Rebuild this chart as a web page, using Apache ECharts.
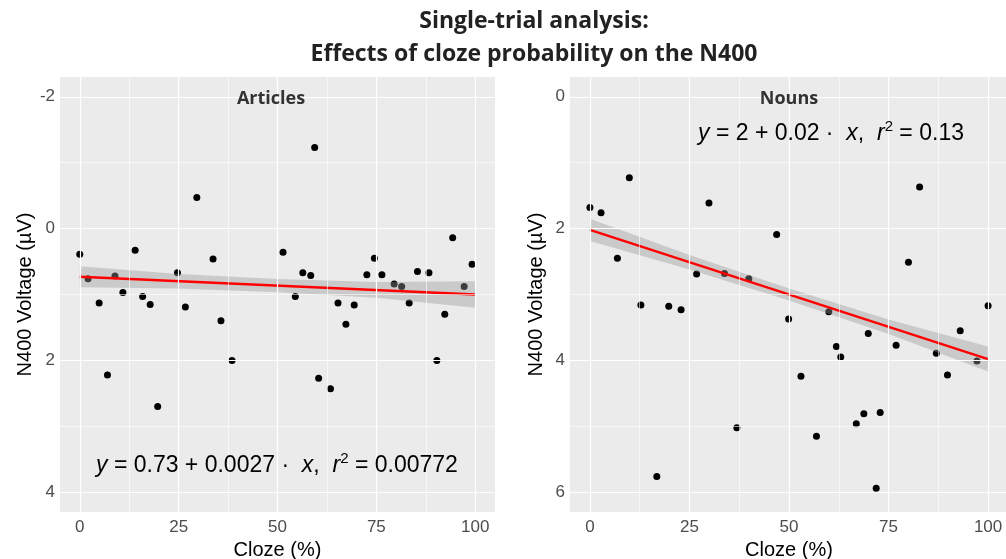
<!DOCTYPE html>
<html><head><meta charset="utf-8">
<script src="https://cdn.jsdelivr.net/npm/echarts@6/dist/echarts.min.js"></script>
<style>html,body{margin:0;padding:0;background:#fff}#c{width:1006px;height:559px}</style>
</head><body><div id="c"></div>
<script>
// ---- data ----
const articlesCloze = [0, 2.1, 4.9, 7.0, 8.9, 10.9, 14, 15.9, 17.8, 19.7, 24.7, 26.7, 29.6, 33.7, 35.7, 38.5, 51.4, 54.5, 56.4, 58.4, 59.4, 60.4, 63.4, 65.3, 67.3, 69.4, 72.6, 74.5, 76.4, 79.5, 81.4, 83.3, 85.4, 88.3, 90.3, 92.3, 94.3, 97.2, 99.2];
const articlesN400 = [0.39, 0.76, 1.13, 2.22, 0.72, 0.97, 0.33, 1.03, 1.15, 2.70, 0.67, 1.19, -0.47, 0.46, 1.40, 2.0, 0.36, 1.03, 0.67, 0.71, -1.23, 2.27, 2.43, 1.13, 1.45, 1.16, 0.70, 0.45, 0.70, 0.84, 0.88, 1.13, 0.65, 0.67, 2.0, 1.30, 0.14, 0.88, 0.54];
const nounsCloze = [0, 2.8, 6.9, 9.9, 12.8, 16.8, 19.8, 22.9, 26.8, 29.9, 33.8, 36.9, 39.9, 46.9, 49.9, 53.0, 56.9, 60.0, 61.9, 63.0, 66.9, 68.8, 69.9, 71.9, 72.9, 76.9, 80.0, 82.8, 87.0, 89.8, 93.0, 97.2, 100];
const nounsN400 = [1.68, 1.76, 2.45, 1.23, 3.16, 5.76, 3.18, 3.23, 2.69, 1.61, 2.68, 5.02, 2.76, 2.09, 3.37, 4.24, 5.15, 3.26, 3.79, 3.95, 4.96, 4.81, 3.59, 5.94, 4.79, 3.77, 2.51, 1.37, 3.89, 4.22, 3.55, 4.01, 3.17];
// fitted lines and confidence bands
const fitX = [0, 100];
const articlesFit = [0.73, 1.0];
const nounsFit = [2.02, 3.98];
const bandX = [0, 25, 50, 75, 100];
const articlesBandLo = [0.57, 0.69, 0.765, 0.81, 0.80];
const articlesBandHi = [0.89, 0.91, 0.965, 1.05, 1.20];
const nounsBandLo = [1.85, 2.40, 2.91, 3.38, 3.79];
const nounsBandHi = [2.19, 2.62, 3.09, 3.60, 4.17];
// axis ticks
const xTicks = [0, 25, 50, 75, 100];
const xMinor = [12.5, 37.5, 62.5, 87.5];
const articlesYTicks = [-2, 0, 2, 4];
const articlesYMinor = [-1, 1, 3];
const nounsYTicks = [0, 2, 4, 6];
const nounsYMinor = [1, 3, 5];

const zip = (a, b) => a.map((v, i) => [v, b[i]]);

function gridLines(idx, yMajor, yMinor) {
  const d = [];
  xTicks.forEach(v => d.push({xAxis: v, lineStyle: {width: 1.2}}));
  xMinor.forEach(v => d.push({xAxis: v, lineStyle: {width: 0.6}}));
  yMajor.forEach(v => d.push({yAxis: v, lineStyle: {width: 1.2}}));
  yMinor.forEach(v => d.push({yAxis: v, lineStyle: {width: 0.6}}));
  return {
    type: 'scatter', xAxisIndex: idx, yAxisIndex: idx, data: [], z: 1, silent: true,
    markLine: {silent: true, symbol: ['none', 'none'], label: {show: false},
      lineStyle: {color: '#ffffff', type: 'solid'}, animation: false, data: d}
  };
}
function band(idx, lo, hi) {
  return {
    type: 'custom', xAxisIndex: idx, yAxisIndex: idx, z: 3, silent: true,
    data: [[0, 0]],
    renderItem: function (params, api) {
      const pts = [];
      bandX.forEach((x, i) => pts.push(api.coord([x, hi[i]])));
      for (let i = bandX.length - 1; i >= 0; i--) pts.push(api.coord([bandX[i], lo[i]]));
      return {type: 'polygon', shape: {points: pts},
        style: {fill: 'rgba(153,153,153,0.4)'}};
    }
  };
}
const tickFont = {color: '#4d4d4d', fontSize: 17, fontFamily: 'Liberation Sans'};
const nameFont = {color: '#000', fontSize: 20, fontFamily: 'Liberation Sans'};
function xAxis(idx) {
  return {
    type: 'value', gridIndex: idx, min: -5, max: 105,
    axisLine: {show: false}, splitLine: {show: false},
    axisTick: {show: true, length: 3, lineStyle: {color: '#333', width: 1}, customValues: xTicks},
    axisLabel: Object.assign({customValues: xTicks, margin: 7}, tickFont),
    name: 'Cloze (%)', nameLocation: 'middle', nameGap: 27,
    nameTextStyle: nameFont
  };
}
function yAxis(idx, min, max, ticks) {
  return {
    type: 'value', gridIndex: idx, min: min, max: max, inverse: true,
    axisLine: {show: false}, splitLine: {show: false},
    axisTick: {show: true, length: 3, lineStyle: {color: '#333', width: 1}, customValues: ticks},
    axisLabel: Object.assign({customValues: ticks, margin: 5}, tickFont),
    name: 'N400 Voltage (µV)', nameLocation: 'middle', nameGap: 24,
    nameTextStyle: nameFont
  };
}
const eqRich = {
  i: {fontStyle: 'italic', fontSize: 23, fontFamily: 'Liberation Sans', color: '#222'},
  n: {fontSize: 23, fontFamily: 'Liberation Sans', color: '#222'},
  s: {fontSize: 15, fontFamily: 'Liberation Sans', color: '#222', padding: [0, 0, 14, 0]}
};

const chart = echarts.init(document.getElementById('c'), null, {renderer: 'canvas'});
chart.setOption({
  animation: false,
  backgroundColor: '#ffffff',
  title: [{
    text: 'Single-trial analysis:\nEffects of cloze probability on the N400',
    left: 529, top: 0, textAlign: 'center',
    textStyle: {fontFamily: 'Open Sans', fontWeight: 'bold', fontSize: 23, color: '#222', lineHeight: 33}
  }, {
    text: 'Articles', left: 266, top: 85, textAlign: 'center',
    textStyle: {fontFamily: 'Open Sans', fontWeight: 'bold', fontSize: 18, color: '#333'}
  }, {
    text: 'Nouns', left: 784, top: 85, textAlign: 'center',
    textStyle: {fontFamily: 'Open Sans', fontWeight: 'bold', fontSize: 18, color: '#333'}
  }],
  grid: [
    {left: 60, top: 77, width: 435, height: 435, show: true, backgroundColor: '#EBEBEB', borderWidth: 0, outerBoundsMode: 'none', containLabel: false},
    {left: 570, top: 77, width: 438, height: 435, show: true, backgroundColor: '#EBEBEB', borderWidth: 0, outerBoundsMode: 'none', containLabel: false}
  ],
  xAxis: [xAxis(0), xAxis(1)],
  yAxis: [yAxis(0, -2.3, 4.3, articlesYTicks), yAxis(1, -0.3, 6.3, nounsYTicks)],
  graphic: [
    {type: 'text', left: 96, top: 451, z: 100, style: {
      text: '{i|y}{n| = 0.73 + 0.0027 ·  }{i|x}{n|,  }{i|r}{s|2}{n| = 0.00772}', rich: eqRich}},
    {type: 'text', left: 698, top: 119, z: 100, style: {
      text: '{i|y}{n| = 2 + 0.02 ·  }{i|x}{n|,  }{i|r}{s|2}{n| = 0.13}', rich: eqRich}}
  ],
  series: [
    gridLines(0, articlesYTicks, articlesYMinor),
    gridLines(1, nounsYTicks, nounsYMinor),
    {type: 'scatter', xAxisIndex: 0, yAxisIndex: 0, z: 2, symbolSize: 7,
      itemStyle: {color: '#000', opacity: 1}, data: zip(articlesCloze, articlesN400)},
    {type: 'scatter', xAxisIndex: 1, yAxisIndex: 1, z: 2, symbolSize: 7,
      itemStyle: {color: '#000', opacity: 1}, data: zip(nounsCloze, nounsN400)},
    band(0, articlesBandLo, articlesBandHi),
    band(1, nounsBandLo, nounsBandHi),
    {type: 'line', xAxisIndex: 0, yAxisIndex: 0, z: 4, symbol: 'none',
      lineStyle: {color: '#FF0000', width: 2.5}, data: zip(fitX, articlesFit)},
    {type: 'line', xAxisIndex: 1, yAxisIndex: 1, z: 4, symbol: 'none',
      lineStyle: {color: '#FF0000', width: 2.5}, data: zip(fitX, nounsFit)}
  ]
});
</script></body></html>
